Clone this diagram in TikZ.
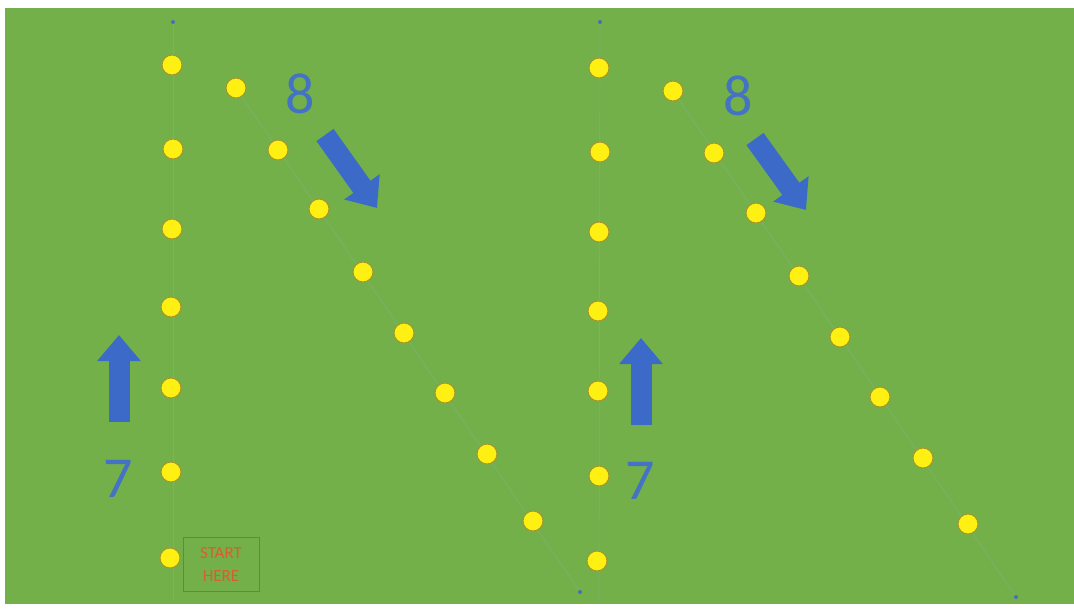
\documentclass[tikz,border=0pt]{standalone}
\usepackage{fontspec}
\setmainfont{Carlito}
\usetikzlibrary{arrows.meta}
\definecolor{field}{RGB}{116,176,74}
\definecolor{cone}{RGB}{255,240,20}
\definecolor{coneedge}{RGB}{165,150,40}
\definecolor{arrowblue}{RGB}{60,106,200}
\definecolor{numblue}{RGB}{68,114,196}
\definecolor{startorange}{RGB}{215,95,45}
\definecolor{boxedge}{RGB}{80,130,150}
\definecolor{faint}{RGB}{122,178,110}
\definecolor{markblue}{RGB}{70,110,190}
\tikzset{
  conedot/.style={circle,fill=cone,draw=coneedge,line width=1pt,minimum size=20pt,inner sep=0pt},
  guide/.style={draw=faint,line width=0.7pt},
  endmark/.style={circle,fill=markblue,minimum size=4pt,inner sep=0pt},
  bigarrow/.style={draw=arrowblue,line width=21pt,-{Triangle[width=42pt,length=26pt]}},
  numlabel/.style={text=numblue,font=\fontsize{58}{58}\selectfont,inner sep=0pt},
  startbox/.style={draw=boxedge,line width=1pt,minimum width=76pt,minimum height=54pt,inner sep=0pt,text=startorange,font=\fontsize{17}{23}\selectfont,align=center}
}
\begin{document}
\begin{tikzpicture}[x=1pt,y=-1pt]
\useasboundingbox (0,0) rectangle (1074,611);
\fill[white] (0,0) rectangle (1074,611);
\fill[field] (5,8) rectangle (1074,604);
% guide lines and end marks
\node[endmark] (t1) at (173,22) {};
\node[endmark] (b1) at (580,592) {};
\node[endmark] (t2) at (600,22) {};
\node[endmark] (b2) at (1016,597) {};
\coordinate (v1) at (173,600);
\coordinate (v2) at (599,600);
\coordinate (d1) at (236,88);
\coordinate (d2) at (673,91);
\draw[guide] (t1) -- (v1);
\draw[guide] (d1) -- (b1);
\draw[guide] (t2) -- (v2);
\draw[guide] (d2) -- (b2);
% left set cones
\node[conedot] (a1) at (172,65) {};
\node[conedot] (a2) at (173,149) {};
\node[conedot] (a3) at (172,229) {};
\node[conedot] (a4) at (171,307) {};
\node[conedot] (a5) at (171,388) {};
\node[conedot] (a6) at (171,472) {};
\node[conedot] (a7) at (170,558) {};
\node[conedot] (c1) at (236,88) {};
\node[conedot] (c2) at (278,150) {};
\node[conedot] (c3) at (319,209) {};
\node[conedot] (c4) at (363,272) {};
\node[conedot] (c5) at (404,333) {};
\node[conedot] (c6) at (445,393) {};
\node[conedot] (c7) at (487,454) {};
\node[conedot] (c8) at (533,521) {};
% right set cones
\node[conedot] (e1) at (599,68) {};
\node[conedot] (e2) at (600,152) {};
\node[conedot] (e3) at (599,232) {};
\node[conedot] (e4) at (598,311) {};
\node[conedot] (e5) at (598,391) {};
\node[conedot] (e6) at (599,476) {};
\node[conedot] (e7) at (597,561) {};
\node[conedot] (f1) at (673,91) {};
\node[conedot] (f2) at (714,153) {};
\node[conedot] (f3) at (756,213) {};
\node[conedot] (f4) at (799,276) {};
\node[conedot] (f5) at (840,337) {};
\node[conedot] (f6) at (880,397) {};
\node[conedot] (f7) at (923,458) {};
\node[conedot] (f8) at (968,524) {};
% labels
\node[numlabel] (n8a) at (300,94) {8};
\node[numlabel] (n8b) at (738,96) {8};
\node[numlabel] (n7a) at (118,479) {7};
\node[numlabel] (n7b) at (640,481) {7};
\node[startbox] (start) at (221,564) {START\\HERE};
% arrows
\draw[bigarrow] (119,422) -- (119,335);
\draw[bigarrow] (641,425) -- (641,338);
\draw[bigarrow] (325,135) -- (377,208);
\draw[bigarrow] (755,139) -- (806,210);
\end{tikzpicture}
\end{document}
